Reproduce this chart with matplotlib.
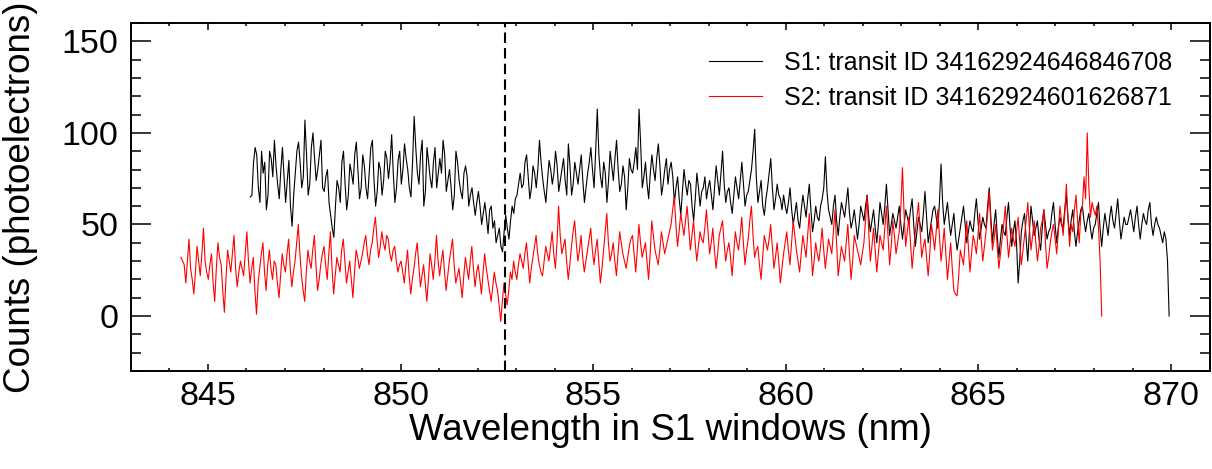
import numpy as np
import matplotlib
matplotlib.use('Agg')
from matplotlib import pyplot as plt
from matplotlib.ticker import MultipleLocator

plt.rcParams['font.family'] = ['Liberation Sans', 'DejaVu Sans']

# S1 spectrum (about 24 samples per nm)
s1_start, s1_end = 846.1, 869.95
counts_s1 = [
    65, 66, 84, 92, 88, 70, 62, 90, 78, 84, 58, 66, 90, 86, 76, 96, 82, 72, 64, 80, 92, 76,
    62, 74, 85, 60, 49, 66, 78, 90, 95, 84, 70, 76, 107, 88, 66, 72, 92, 100, 86, 74, 80, 88, 96, 70,
    68, 76, 80, 62, 55, 48, 43, 60, 74, 70, 62, 84, 90, 72, 58, 66, 83, 78, 72, 88, 95, 80, 64, 70,
    88, 82, 70, 64, 78, 92, 96, 74, 60, 68, 84, 80, 66, 74, 90, 86, 75, 84, 99, 78, 62, 70, 85, 90,
    72, 80, 94, 86, 80, 70, 65, 84, 109, 92, 78, 72, 88, 96, 60, 68, 92, 84, 75, 70, 84, 92, 70, 78,
    86, 78, 96, 88, 68, 74, 80, 70, 58, 66, 90, 84, 74, 68, 64, 78, 82, 76, 60, 66, 70, 62, 55, 62,
    68, 60, 50, 56, 62, 54, 45, 58, 60, 48, 52, 40, 44, 48, 38, 35, 46, 55, 48, 42, 52, 60, 56, 64,
    66, 72, 78, 70, 72, 84, 88, 76, 64, 70, 82, 78, 70, 80, 96, 84, 75, 68, 62, 74, 85, 80, 72, 78,
    90, 82, 68, 74, 80, 86, 74, 66, 94, 82, 66, 72, 84, 78, 72, 80, 88, 74, 62, 70, 78, 84, 92, 80,
    70, 90, 113, 88, 76, 70, 84, 78, 62, 74, 90, 82, 74, 86, 96, 80, 68, 72, 82, 76, 58, 70, 86, 80,
    78, 84, 92, 80, 113, 94, 70, 76, 84, 72, 64, 78, 88, 80, 74, 86, 94, 82, 66, 72, 80, 86, 72, 80,
    84, 76, 62, 70, 76, 64, 55, 68, 80, 72, 66, 74, 72, 60, 52, 64, 78, 70, 60, 68, 70, 76, 64, 70,
    74, 66, 58, 70, 82, 74, 66, 78, 90, 72, 62, 68, 70, 62, 56, 66, 76, 70, 64, 74, 84, 72, 60, 66,
    68, 74, 80, 90, 102, 76, 62, 68, 74, 60, 55, 64, 70, 78, 86, 70, 58, 64, 72, 66, 64, 58, 66, 60,
    56, 62, 70, 58, 50, 56, 62, 52, 48, 58, 66, 60, 54, 64, 72, 58, 46, 52, 60, 54, 52, 60, 64, 70,
    87, 68, 58, 54, 50, 60, 66, 52, 44, 54, 62, 58, 54, 62, 70, 56, 48, 52, 58, 50, 42, 50, 60, 56,
    52, 60, 66, 54, 46, 52, 58, 48, 40, 50, 62, 56, 50, 60, 72, 58, 44, 50, 56, 52, 48, 54, 60, 50,
    42, 50, 58, 54, 50, 58, 64, 50, 38, 46, 54, 50, 46, 56, 68, 54, 40, 46, 52, 58, 60, 54, 48, 62,
    83, 62, 50, 56, 62, 52, 44, 50, 56, 44, 36, 42, 48, 54, 60, 50, 40, 46, 52, 48, 46, 56, 64, 52,
    42, 48, 54, 50, 48, 60, 70, 54, 40, 50, 58, 44, 32, 42, 50, 46, 44, 54, 62, 48, 38, 46, 52, 40,
    18, 30, 46, 52, 56, 42, 30, 46, 60, 52, 44, 48, 52, 42, 36, 48, 58, 50, 42, 46, 48, 56, 62, 50,
    40, 48, 54, 50, 48, 58, 66, 54, 44, 52, 58, 46, 38, 46, 52, 58, 60, 52, 46, 52, 56, 48, 42, 48,
    50, 56, 62, 48, 38, 48, 56, 50, 44, 54, 60, 52, 48, 56, 64, 52, 42, 48, 54, 50, 50, 54, 58, 52,
    46, 54, 60, 50, 42, 50, 56, 52, 50, 58, 62, 50, 44, 50, 54, 50, 48, 44, 40, 46, 42, 30, 0,
]

# S2 spectrum
s2_start, s2_end = 844.3, 868.2
counts_s2 = [
    32, 30, 28, 18, 30, 42, 26, 20, 12, 24, 38, 30, 22, 34, 48, 30, 24,
    20, 28, 34, 18, 8, 26, 40, 32, 28, 14, 2, 20, 36, 30, 24, 34, 44, 26, 16, 24, 30, 26, 22, 34,
    46, 30, 18, 26, 32, 14, 1, 18, 26, 34, 40, 24, 14, 28, 36, 26, 20, 30, 28, 18, 10, 22, 34, 28,
    24, 34, 42, 26, 16, 24, 30, 40, 50, 34, 22, 14, 8, 24, 36, 30, 26, 36, 44, 28, 14, 20, 28, 34,
    38, 28, 20, 34, 46, 26, 12, 22, 32, 28, 24, 36, 42, 30, 18, 24, 30, 20, 10, 24, 36, 32, 26, 30,
    34, 40, 44, 34, 28, 36, 40, 48, 54, 42, 32, 38, 46, 40, 36, 44, 42, 34, 30, 36, 38, 30, 24, 28,
    30, 24, 18, 28, 36, 22, 12, 20, 26, 34, 40, 28, 16, 22, 28, 18, 8, 20, 34, 28, 20, 30, 44, 30,
    22, 30, 36, 24, 14, 22, 30, 36, 42, 28, 18, 22, 26, 18, 10, 22, 32, 26, 20, 30, 38, 26, 16, 24,
    28, 20, 12, 24, 34, 26, 20, 14, 8, 16, 24, 18, 14, 6, -3, 8, 18, 12, 6, 14, 24, 20, 30, 24,
    20, 28, 34, 30, 26, 34, 40, 30, 18, 26, 32, 38, 44, 34, 28, 24, 22, 30, 38, 34, 30, 38, 46, 34,
    26, 40, 60, 44, 34, 38, 42, 30, 20, 28, 38, 46, 52, 40, 30, 36, 44, 32, 24, 30, 36, 42, 48, 36,
    28, 36, 42, 30, 18, 26, 36, 46, 56, 40, 30, 34, 40, 30, 22, 34, 46, 40, 34, 30, 26, 32, 38, 42,
    44, 34, 24, 36, 50, 40, 32, 36, 40, 30, 20, 34, 52, 44, 36, 32, 28, 36, 46, 40, 34, 38, 42, 46,
    50, 58, 65, 50, 38, 46, 56, 50, 44, 52, 60, 48, 36, 44, 52, 40, 30, 38, 46, 42, 40, 48, 58, 46,
    34, 40, 48, 36, 26, 34, 44, 48, 52, 40, 30, 36, 40, 32, 22, 34, 46, 40, 36, 44, 54, 40, 28, 36,
    42, 52, 60, 44, 32, 36, 38, 28, 20, 32, 44, 40, 36, 42, 50, 38, 26, 32, 40, 30, 18, 26, 34, 40,
    46, 36, 28, 40, 52, 44, 36, 30, 24, 34, 44, 38, 32, 44, 56, 40, 22, 30, 40, 34, 30, 38, 48, 36,
    26, 34, 42, 38, 34, 46, 58, 40, 22, 30, 38, 34, 30, 40, 50, 34, 20, 30, 44, 40, 36, 32, 28, 34,
    40, 52, 66, 46, 30, 38, 48, 36, 24, 34, 44, 40, 36, 48, 60, 44, 28, 38, 52, 44, 34, 40, 46, 60,
    81, 56, 38, 46, 54, 40, 26, 36, 46, 54, 62, 46, 32, 38, 42, 32, 22, 34, 50, 44, 36, 46, 58, 44,
    30, 38, 48, 34, 20, 30, 40, 26, 14, 12, 11, 22, 36, 32, 28, 40, 52, 38, 24, 34, 44, 40, 34, 44,
    56, 42, 30, 38, 46, 56, 68, 50, 36, 42, 50, 38, 26, 34, 42, 50, 60, 44, 32, 40, 48, 42, 38, 46,
    54, 40, 28, 36, 44, 52, 62, 48, 36, 44, 52, 40, 30, 38, 48, 52, 58, 40, 26, 32, 40, 46, 50, 42,
    34, 46, 60, 52, 44, 56, 72, 54, 38, 50, 46, 58, 66, 52, 40, 56, 60, 76, 64, 100, 70, 54, 62, 58,
    55, 60, 48, 30, 0,
]

label_s1 = 'S1: transit ID 34162924646846708'
label_s2 = 'S2: transit ID 34162924601626871'
line_wl = 852.72

wl_s1 = np.linspace(s1_start, s1_end, len(counts_s1))
wl_s2 = np.linspace(s2_start, s2_end, len(counts_s2))

fig = plt.figure(figsize=(12.12, 4.69), dpi=100)
ax = fig.add_axes([0.108, 0.209, 0.890, 0.742])

ax.plot(wl_s1, counts_s1, color='black', lw=0.8, label=label_s1)
ax.plot(wl_s2, counts_s2, color='red', lw=0.8, label=label_s2)
ax.axvline(line_wl, color='black', lw=1.5, ls=(0, (5, 2.5)))

ax.set_xlim(843, 871)
ax.set_ylim(-30, 160)
ax.xaxis.set_major_locator(MultipleLocator(5))
ax.xaxis.set_minor_locator(MultipleLocator(1))
ax.yaxis.set_major_locator(MultipleLocator(50))
ax.yaxis.set_minor_locator(MultipleLocator(10))

ax.tick_params(which='both', direction='in', top=True, right=True, width=1.1, labelsize=24.5)
ax.tick_params(axis='x', which='major', length=5, pad=7)
ax.tick_params(axis='x', which='minor', length=2.5)
ax.tick_params(axis='y', which='major', length=14.5, pad=9)
ax.tick_params(axis='y', which='minor', length=7.2)
for sp in ax.spines.values():
    sp.set_linewidth(1.4)

ax.set_xlabel('Wavelength in S1 windows (nm)', fontsize=26.5)
ax.set_ylabel('Counts (photoelectrons)', fontsize=26.5)
ax.xaxis.set_label_coords(0.5, -0.122)
ax.yaxis.set_label_coords(-0.086, 0.5)

ax.legend(loc='upper right', bbox_to_anchor=(0.975, 0.949), borderaxespad=0,
          frameon=False, fontsize=18, handlelength=2.1, handletextpad=0.9,
          labelspacing=0.45)

fig.savefig('out.png', dpi=100)
